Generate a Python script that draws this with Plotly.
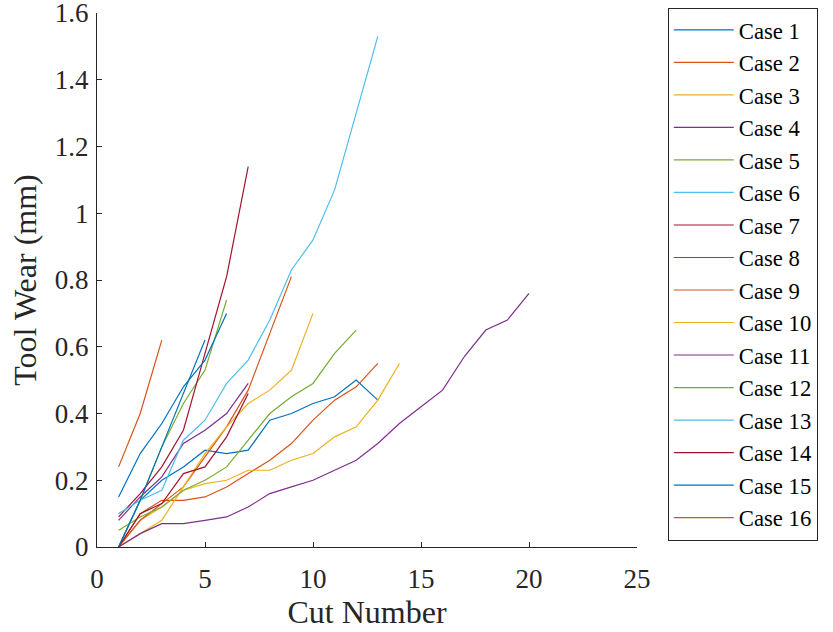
import plotly.graph_objects as go

# Tool wear (mm) per cut
case_1 = [0.00, 0.14, 0.20, 0.24, 0.29, 0.28, 0.29, 0.38, 0.40, 0.43, 0.45, 0.50, 0.44]
case_2 = [0.00, 0.10, 0.14, 0.14, 0.15, 0.18, 0.22, 0.26, 0.31, 0.38, 0.44, 0.48, 0.55]
case_3 = [0.00, 0.08, 0.12, 0.17, 0.19, 0.20, 0.23, 0.23, 0.26, 0.28, 0.33, 0.36, 0.44, 0.55]
case_4 = [0.08, 0.15, 0.21, 0.31, 0.35, 0.40, 0.49]
case_5 = [0.00, 0.14, 0.30, 0.43, 0.53, 0.74]
case_6 = [0.00]
case_7 = [0.09, 0.16, 0.24, 0.35, 0.58, 0.81, 1.14]
case_8 = [0.15, 0.28, 0.37, 0.48, 0.56, 0.70]
case_9 = [0.00, 0.08, 0.13, 0.18, 0.27, 0.36, 0.47, 0.64, 0.81]
case_10 = [0.00, 0.04, 0.08, 0.18, 0.28, 0.36, 0.43, 0.47, 0.53, 0.70]
case_11 = [0.00, 0.04, 0.07, 0.07, 0.08, 0.09, 0.12, 0.16, 0.18, 0.20,
           0.23, 0.26, 0.31, 0.37, 0.42, 0.47, 0.57, 0.65, 0.68, 0.76]
case_12 = [0.05, 0.09, 0.12, 0.17, 0.20, 0.24, 0.32, 0.40, 0.45, 0.49, 0.58, 0.65]
case_13 = [0.10, 0.14, 0.17, 0.32, 0.38, 0.49, 0.56, 0.68, 0.83, 0.92, 1.07, 1.30, 1.53]
case_14 = [0.00, 0.10, 0.13, 0.22, 0.24, 0.33, 0.46]
case_15 = [0.00, 0.14, 0.30, 0.46, 0.62]
case_16 = [0.24, 0.40, 0.62]

series = [case_1, case_2, case_3, case_4, case_5, case_6, case_7, case_8,
          case_9, case_10, case_11, case_12, case_13, case_14, case_15, case_16]
names = [f"Case {i}" for i in range(1, 17)]

matlab_colors = ["#0072BD", "#D95319", "#EDB120", "#7E2F8E",
                 "#77AC30", "#4DBEEE", "#A2142F"]

x_ticks = [0, 5, 10, 15, 20, 25]
y_ticks = [0, 0.2, 0.4, 0.6, 0.8, 1.0, 1.2, 1.4, 1.6]
y_tick_text = ["0", "0.2", "0.4", "0.6", "0.8", "1", "1.2", "1.4", "1.6"]

FONT = "Liberation Serif"
INK = "#262626"

fig = go.Figure()
for i, (vals, nm) in enumerate(zip(series, names)):
    fig.add_trace(go.Scatter(
        x=list(range(1, len(vals) + 1)), y=vals, mode="lines",
        name=nm,
        line=dict(color=matlab_colors[i % 7], width=1.2),
    ))

fig.update_layout(
    width=833, height=632,
    margin=dict(l=97, r=196, t=13, b=85, autoexpand=False),
    paper_bgcolor="white", plot_bgcolor="white",
    xaxis=dict(range=[0, 25], tickvals=x_ticks, ticklabelstandoff=8,
               ticklabeloverflow="allow",
               showgrid=False, zeroline=False, showline=True, linecolor=INK, linewidth=1,
               ticks="inside", ticklen=5, tickcolor=INK, tickwidth=1,
               tickfont=dict(family=FONT, size=27, color=INK),
               title=dict(text="Cut Number", font=dict(family=FONT, size=32, color=INK),
                          standoff=4)),
    yaxis=dict(range=[0, 1.6], tickvals=y_ticks, ticktext=y_tick_text,
               ticklabelstandoff=2, ticklabeloverflow="allow",
               showgrid=False, zeroline=False, showline=True, linecolor=INK, linewidth=1,
               ticks="inside", ticklen=5, tickcolor=INK, tickwidth=1,
               tickfont=dict(family=FONT, size=27, color=INK),
               title=dict(text="Tool Wear (mm)", font=dict(family=FONT, size=32, color=INK),
                          standoff=8)),
    legend=dict(
        x=1.057, xanchor="left", y=1.01, yanchor="top",
        bgcolor="white", bordercolor=INK, borderwidth=1,
        font=dict(family=FONT, size=22.7, color="black"),
        itemwidth=60, maxheight=620,
    ),
    showlegend=True,
)

fig.write_html("out.html")
